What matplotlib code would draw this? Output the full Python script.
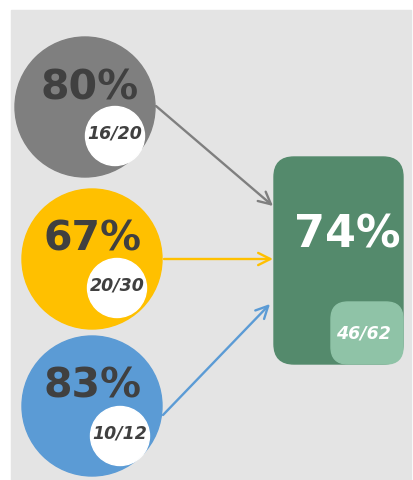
import matplotlib.pyplot as plt
from matplotlib.patches import Circle, FancyBboxPatch, Rectangle

# Data
groups = ["A", "B", "C"]
hits = [16, 20, 10]
totals = [20, 30, 12]
colors = ["#7f7f7f", "#ffc000", "#5b9bd5"]

total_hits = sum(hits)
total_all = sum(totals)

# Layout (pixel coords)
centers = [(85, 108), (92, 260), (92, 407)]
small = [(115, 137), (117, 289), (120, 437)]
arrow_start = [(156, 107), (164, 260), (163, 416)]
arrow_end = [(273, 207), (273, 260), (270, 305)]

fig = plt.figure(figsize=(4.13, 4.81), dpi=100)
ax = fig.add_axes([0, 0, 1, 1])
ax.set_xlim(0, 413)
ax.set_ylim(481, 0)
ax.axis("off")

ax.add_patch(Rectangle((11, 11), 400, 470, color="#e4e4e4", zorder=0))

for i in range(len(groups)):
    cx, cy = centers[i]
    ax.add_patch(Circle((cx, cy), 70, color=colors[i], zorder=1))
    sx, sy = small[i]
    ax.add_patch(Circle((sx, sy), 29.5, color="white", zorder=2))
    pct = round(100 * hits[i] / totals[i])
    ax.text(cx + 5 if i == 0 else cx + 1, cy - 20, f"{pct}%", fontsize=29.5, fontweight="bold",
            color="#404040", ha="center", va="center", zorder=3)
    ax.text(sx, sy - 3, f"{hits[i]}/{totals[i]}", fontsize=12.5, fontweight="bold",
            fontstyle="italic", color="#404040", ha="center", va="center", zorder=3)
    ax.annotate("", xy=arrow_end[i], xytext=arrow_start[i],
                arrowprops=dict(arrowstyle="->", color=colors[i], lw=1.7,
                                mutation_scale=22, shrinkA=0, shrinkB=0), zorder=1)

# Total box
ax.add_patch(FancyBboxPatch((274 + 20, 158 + 20), 129 - 40, 207 - 40,
                            boxstyle="round,pad=20", color="#548a6c", zorder=1))
ax.add_patch(FancyBboxPatch((331 + 17, 303 + 17), 72 - 34, 62 - 34,
                            boxstyle="round,pad=17", color="#8fc3a7", zorder=2))
ax.text(347, 235, f"{round(100 * total_hits / total_all)}%", fontsize=32, fontweight="bold",
        color="white", ha="center", va="center", zorder=3)
ax.text(363, 334, f"{total_hits}/{total_all}", fontsize=12.5, fontweight="bold",
        fontstyle="italic", color="white", ha="center", va="center", zorder=3)

fig.savefig("out.png", dpi=100)
